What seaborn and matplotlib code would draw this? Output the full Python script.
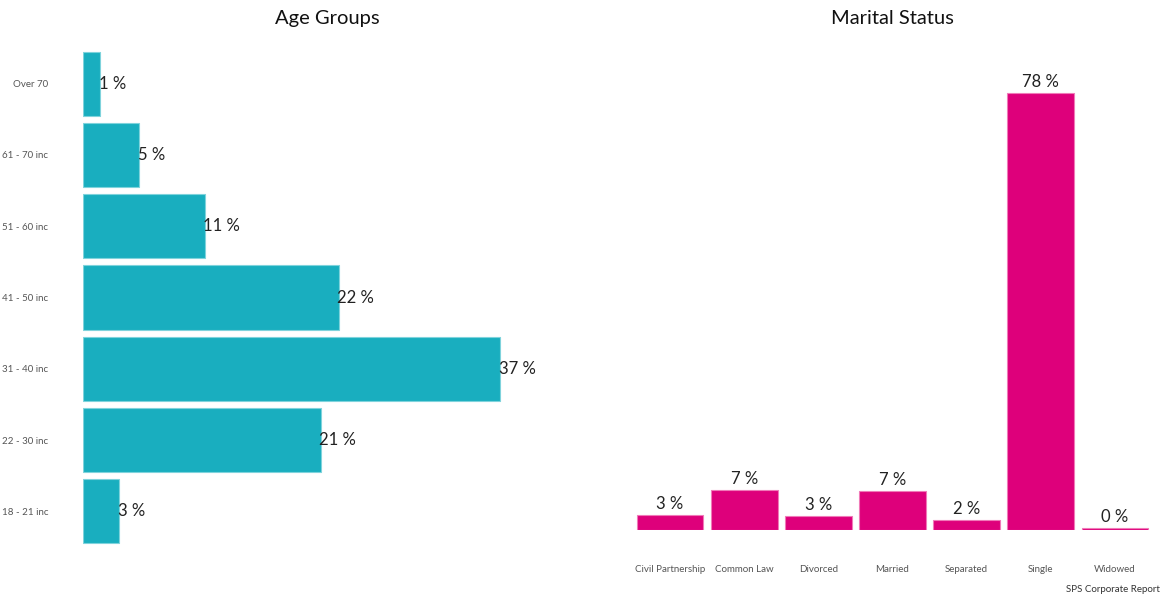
import matplotlib
matplotlib.use('Agg')
import matplotlib.pyplot as plt
import seaborn as sns
import pandas as pd

# data
age_groups = ['Over 70', '61 - 70 inc', '51 - 60 inc', '41 - 50 inc',
              '31 - 40 inc', '22 - 30 inc', '18 - 21 inc']
age_pct = [1.5, 5.0, 10.8, 22.7, 37.0, 21.1, 3.2]
age_labels = ['1 %', '5 %', '11 %', '22 %', '37 %', '21 %', '3 %']

marital = ['Civil Partnership', 'Common Law', 'Divorced', 'Married',
           'Separated', 'Single', 'Widowed']
marital_pct = [2.7, 7.1, 2.5, 7.0, 1.8, 78.0, 0.4]
marital_labels = ['3 %', '7 %', '3 %', '7 %', '2 %', '78 %', '0 %']

teal = '#19AEBF'
magenta = '#DE007B'

sns.set_style('white')
plt.rcParams['font.family'] = ['Lato', 'DejaVu Sans']

fig = plt.figure(figsize=(11.66, 5.98), dpi=100)
ax1 = fig.add_axes([83 / 1166, 1 - 547 / 598, 488 / 1166, 499 / 598])
ax2 = fig.add_axes([633 / 1166, 1 - 530 / 598, 519 / 1166, 482 / 598])

df_age = pd.DataFrame({'group': age_groups, 'pct': age_pct})
sns.barplot(data=df_age, y='group', x='pct', order=age_groups, ax=ax1,
            color=teal, saturation=1, width=0.9, orient='h',
            edgecolor='#7fd3dc', linewidth=0.8)
ax1.bar_label(ax1.containers[0], labels=age_labels, padding=-1,
              fontsize=12, color='#222222')
ax1.set_xlim(0, 43.3)
ax1.set_ylim(6.5, -0.5)
ax1.set_title('Age Groups', fontsize=14.5, color='#111111', pad=17)
ax1.set_xlabel('')
ax1.set_ylabel('')
ax1.set_xticks([])
ax1.tick_params(axis='y', length=0, pad=25, labelsize=7, labelcolor='#555555')

df_mar = pd.DataFrame({'status': marital, 'pct': marital_pct})
sns.barplot(data=df_mar, x='status', y='pct', order=marital, ax=ax2,
            color=magenta, saturation=1, width=0.9,
            edgecolor='#f07ab8', linewidth=0.8)
ax2.bar_label(ax2.containers[0], labels=marital_labels, padding=2,
              fontsize=12, color='#222222')
ax2.set_ylim(0, 86.0)
ax2.set_xlim(-0.5, 6.5)
ax2.set_title('Marital Status', fontsize=14.5, color='#111111', pad=17)
ax2.set_xlabel('')
ax2.set_ylabel('')
ax2.set_yticks([])
ax2.tick_params(axis='x', length=0, pad=25, labelsize=7, labelcolor='#555555')

for ax in (ax1, ax2):
    for s in ax.spines.values():
        s.set_visible(False)

fig.text(1160 / 1166, 1 - 590 / 598, 'SPS Corporate Report', ha='right',
         va='center', fontsize=7, color='#333333')

fig.savefig('out.png', dpi=100)
